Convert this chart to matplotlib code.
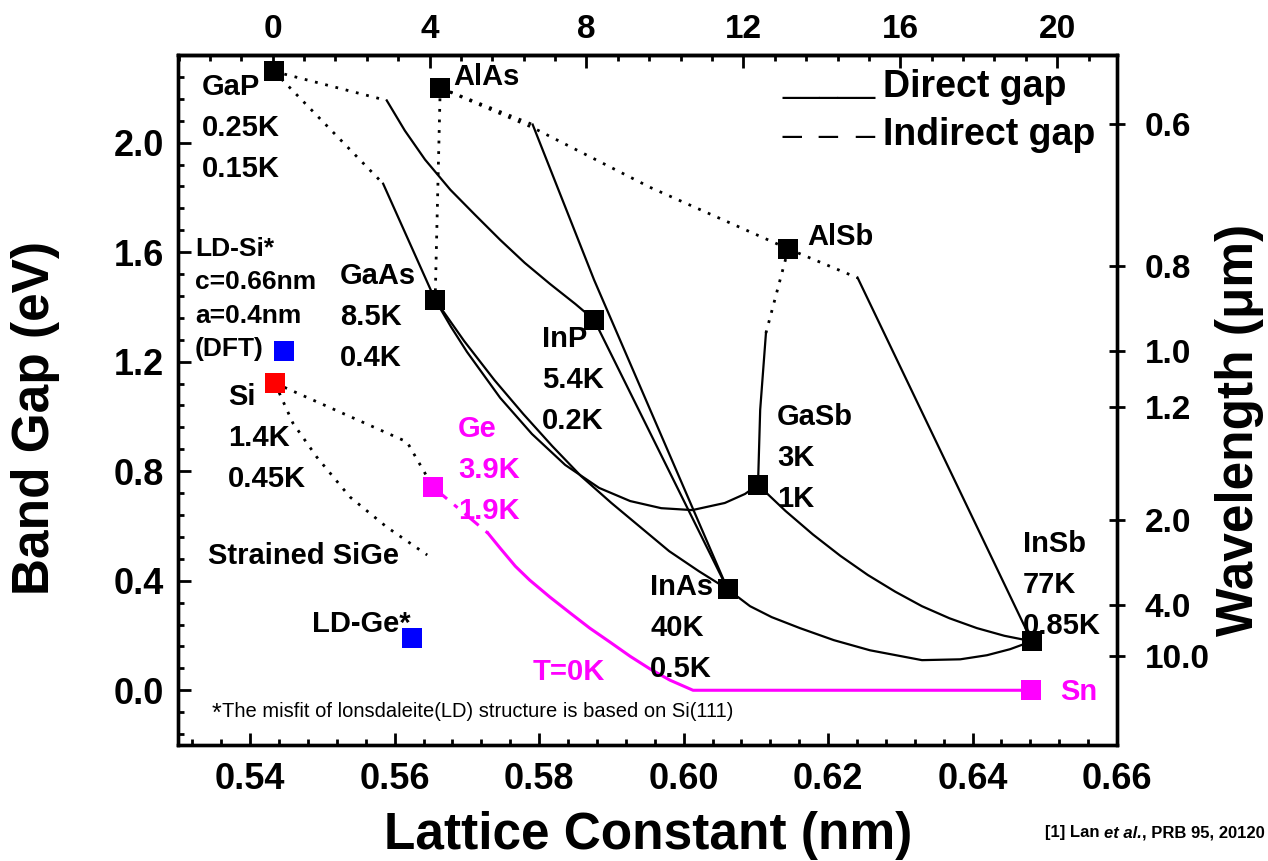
import matplotlib.pyplot as plt
from matplotlib.ticker import MultipleLocator

plt.rcParams['font.family'] = ['Liberation Sans', 'DejaVu Sans']
plt.rcParams['font.weight'] = 'bold'

SI_A = 0.5431  # nm, misfit reference

# binary III-V compounds: lattice constant (nm) and band gap (eV)
names = ["GaP", "AlAs", "GaAs", "InP", "AlSb", "GaSb", "InAs", "InSb"]
comp_a = [0.5433, 0.5663, 0.5656, 0.5876, 0.6145, 0.6103, 0.6061, 0.6482]
comp_eg = [2.26, 2.20, 1.426, 1.353, 1.612, 0.750, 0.369, 0.179]

# group IV
si_a, si_eg = 0.5434, 1.122
ge_a, ge_eg = 0.5653, 0.742
sn_a, sn_eg = 0.6481, 0.0
ld_a = [0.5447, 0.5624]   # LD-Si, LD-Ge
ld_eg = [1.239, 0.190]

# ternary alloys, (lattice, gap); indirect parts dotted, direct parts solid
gainp_ind = ([0.5433, 0.5589], [2.26, 2.154])
gainp_dir = ([0.5589, 0.5614, 0.5642, 0.5677, 0.5711, 0.5746, 0.5780, 0.5815, 0.5850, 0.5876],
             [2.154, 2.044, 1.938, 1.828, 1.737, 1.645, 1.561, 1.484, 1.411, 1.353])
gaasp_ind = ([0.5433, 0.5584], [2.26, 1.850])
gaasp_dir = ([0.5584, 0.5656], [1.850, 1.426])
algaas_ind = ([0.5663, 0.5656], [2.20, 1.426])
alassb_ind = ([0.5663, 0.5791, 0.5955, 0.6145], [2.20, 2.055, 1.835, 1.612])
alinas_ind = ([0.5663, 0.5791], [2.20, 2.066])
alinas_dir = ([0.5791, 0.5876, 0.6061], [2.066, 1.499, 0.369])
alinsb_ind = ([0.6145, 0.6241], [1.612, 1.506])
alinsb_dir = ([0.6241, 0.6482], [1.506, 0.179])
algasb_ind = ([0.6145, 0.6114], [1.612, 1.305])
algasb_dir = ([0.6114, 0.6106, 0.6103], [1.305, 1.024, 0.750])
gainsb_dir = ([0.6103, 0.6141, 0.6179, 0.6217, 0.6255, 0.6293, 0.6330, 0.6368, 0.6406, 0.6444, 0.6482],
              [0.750, 0.655, 0.569, 0.491, 0.421, 0.360, 0.307, 0.263, 0.227, 0.199, 0.179])
inassb_dir = ([0.6061, 0.6092, 0.6122, 0.6161, 0.6208, 0.6258, 0.6330, 0.6383, 0.6420, 0.6452, 0.6482],
              [0.369, 0.307, 0.267, 0.227, 0.183, 0.146, 0.110, 0.113, 0.128, 0.150, 0.179])
gainas_dir = ([0.5656, 0.5696, 0.5738, 0.5778, 0.5818, 0.5858, 0.5900, 0.5940, 0.5980, 0.6021, 0.6061],
              [1.426, 1.276, 1.133, 1.009, 0.892, 0.782, 0.684, 0.596, 0.508, 0.435, 0.369])
gaassb_dir = ([0.5656, 0.5678, 0.5700, 0.5746, 0.5790, 0.5836, 0.5883, 0.5926, 0.5969,
               0.6012, 0.6057, 0.6085, 0.6103],
              [1.426, 1.327, 1.236, 1.068, 0.936, 0.823, 0.739, 0.691, 0.665,
               0.658, 0.684, 0.717, 0.750])
inasp_dir = ([0.5876, 0.6061], [1.353, 0.369])

sige_ind = ([0.5434, 0.5617, 0.5653], [1.122, 0.907, 0.742])
strained_sige = ([0.5434, 0.5459, 0.5492, 0.5538, 0.5589, 0.5645],
                 [1.122, 0.976, 0.852, 0.706, 0.596, 0.494])
gesn_ind = ([0.5653, 0.5729], [0.742, 0.574])
gesn_dir = ([0.5729, 0.5746, 0.5767, 0.5787, 0.5815, 0.5843, 0.5870, 0.5898, 0.5926, 0.5954,
             0.5981, 0.6013, 0.6481],
            [0.574, 0.519, 0.453, 0.402, 0.340, 0.282, 0.227, 0.176, 0.124, 0.077,
             0.037, 0.0, 0.0])

wavelengths = [0.6, 0.8, 1.0, 1.2, 2.0, 4.0, 10.0]  # um

fig = plt.figure(figsize=(12.68, 8.61), dpi=100)
ax = fig.add_axes([0.1404, 0.1347, 0.7405, 0.8014])
ax.set_xlim(0.53, 0.66)
ax.set_ylim(-0.2, 2.32)

dotted = dict(color='k', lw=2, ls=(0, (1, 2.8)))
solid = dict(color='k', lw=1.6)

for c in [gainp_ind, gaasp_ind, algaas_ind, alassb_ind, alinas_ind,
          alinsb_ind, algasb_ind, sige_ind, strained_sige]:
    ax.plot(*c, **dotted)
for c in [gainp_dir, gaasp_dir, alinas_dir, alinsb_dir, algasb_dir,
          gainsb_dir, inassb_dir, gainas_dir, gaassb_dir, inasp_dir]:
    ax.plot(*c, **solid)

ax.plot(*gesn_ind, color='#ff00ff', lw=2.2, ls=(0, (6, 3, 1.5, 3)))
ax.plot(*gesn_dir, color='#ff00ff', lw=2.2)

sq = dict(marker='s', ms=13.7, mew=0, ls='none', zorder=5)
ax.plot(comp_a, comp_eg, color='k', **sq)
ax.plot(ld_a, ld_eg, color='#0000ff', **sq)
ax.plot([si_a], [si_eg], color='#ff0000', **sq)
ax.plot([ge_a, sn_a], [ge_eg, sn_eg], color='#ff00ff', **sq)


def label(x, y, s, color='k', size=21, ls=1.59, ha='left'):
    ax.text(x, y, s, color=color, fontsize=size, fontweight='bold',
            ha=ha, va='top', linespacing=ls)


label(0.53332, 2.256, "GaP\n0.25K\n0.15K")
label(0.56807, 2.2925, "AlAs")
label(0.53235, 1.656, "LD-Si*\nc=0.66nm\na=0.4nm\n(DFT)", size=19, ls=1.5)
label(0.55243, 1.565, "GaAs\n8.5K\n0.4K")
label(0.53692, 1.1225, "Si\n1.4K\n0.45K")
label(0.53415, 0.541, "Strained SiGe")
label(0.56876, 1.0055, "Ge\n3.9K\n1.9K", color='#ff00ff')
label(0.58039, 1.3346, "InP\n5.4K\n0.2K")
label(0.61293, 1.049, "GaSb\n3K\n1K")
label(0.59535, 0.4278, "InAs\n40K\n0.5K")
label(0.64699, 0.585, "InSb\n77K\n0.85K")
label(0.61708, 1.7075, "AlSb")
label(0.56226, 0.2925, "LD-Ge*", ha='right')
label(0.57915, 0.117, "T=0K", color='#ff00ff')
label(0.65209, 0.0439, "Sn", color='#ff00ff')

# footnote
ax.text(0.036, 0.035, "*", fontsize=18, fontweight='normal', transform=ax.transAxes)
ax.text(0.0469, 0.0406, "The misfit of lonsdaleite(LD) structure is based on Si(111)",
        fontsize=14.5, fontweight='normal', transform=ax.transAxes)

# key
ax.text(0.6443, 0.9464, "_____", fontsize=24, fontweight='normal', transform=ax.transAxes)
ax.text(0.7508, 0.939, "Direct gap", fontsize=27, transform=ax.transAxes)
ax.text(0.6443, 0.8899, "_  _  _", fontsize=24, fontweight='normal', transform=ax.transAxes)
ax.text(0.7508, 0.8696, "Indirect gap", fontsize=27, transform=ax.transAxes)

# bottom / left axes
ax.xaxis.set_major_locator(MultipleLocator(0.02))
ax.xaxis.set_minor_locator(MultipleLocator(0.004))
ax.yaxis.set_major_locator(MultipleLocator(0.4))
ax.yaxis.set_minor_locator(MultipleLocator(0.08))
ax.xaxis.set_major_formatter(lambda v, p: f"{v:.2f}")
ax.yaxis.set_major_formatter(lambda v, p: f"{v:.1f}")
ax.tick_params(which='both', direction='in', width=2, top=False, right=False)
ax.tick_params(which='major', length=9, labelsize=26)
ax.tick_params(which='minor', length=4.5)
ax.tick_params(axis='x', pad=12)
ax.tick_params(axis='y', pad=10)

# misfit axis on top
top = ax.secondary_xaxis('top', functions=(lambda a: (a / SI_A - 1) * 100,
                                           lambda m: SI_A * (1 + m / 100)))
top.set_xticks(range(0, 21, 4))
top.xaxis.set_minor_locator(MultipleLocator(0.8))
top.tick_params(which='both', direction='in', width=2)
top.tick_params(which='major', length=9, labelsize=24, pad=7)
top.tick_params(which='minor', length=4.5)

# wavelength axis on the right
right = ax.twinx()
right.set_ylim(ax.get_ylim())
right.set_yticks([1.24 / w for w in wavelengths], labels=[f"{w:.1f}" for w in wavelengths])
right.tick_params(direction='inout', length=12, width=2, labelsize=24, pad=14)

for a in (ax, right):
    for s in a.spines.values():
        s.set_linewidth(2.4)
for s in top.spines.values():
    s.set_linewidth(2.4)

fig.text(36 / 1268, 1 - 418 / 861, "Band Gap (eV)", rotation=90, fontsize=37,
         ha='center', va='center')
fig.text(648 / 1268, 1 - 835 / 861, "Lattice Constant (nm)", fontsize=37,
         ha='center', va='center')
fig.text(1240 / 1268, 1 - 430 / 861, "Wavelength (\u03bcm)", rotation=90, fontsize=37,
         ha='center', va='center')

ref = fig.text(1045 / 1268, 1 - 833 / 861, "[1] Lan ", fontsize=12, va='center')
ref2 = ax.annotate("et al.", xy=(1, 0), xycoords=ref, va='bottom', fontsize=12,
                   style='italic', annotation_clip=False)
ax.annotate(", PRB 95, 20120", xy=(1, 0), xycoords=ref2, va='bottom', fontsize=12,
            annotation_clip=False)

fig.savefig("out.png", dpi=100)
